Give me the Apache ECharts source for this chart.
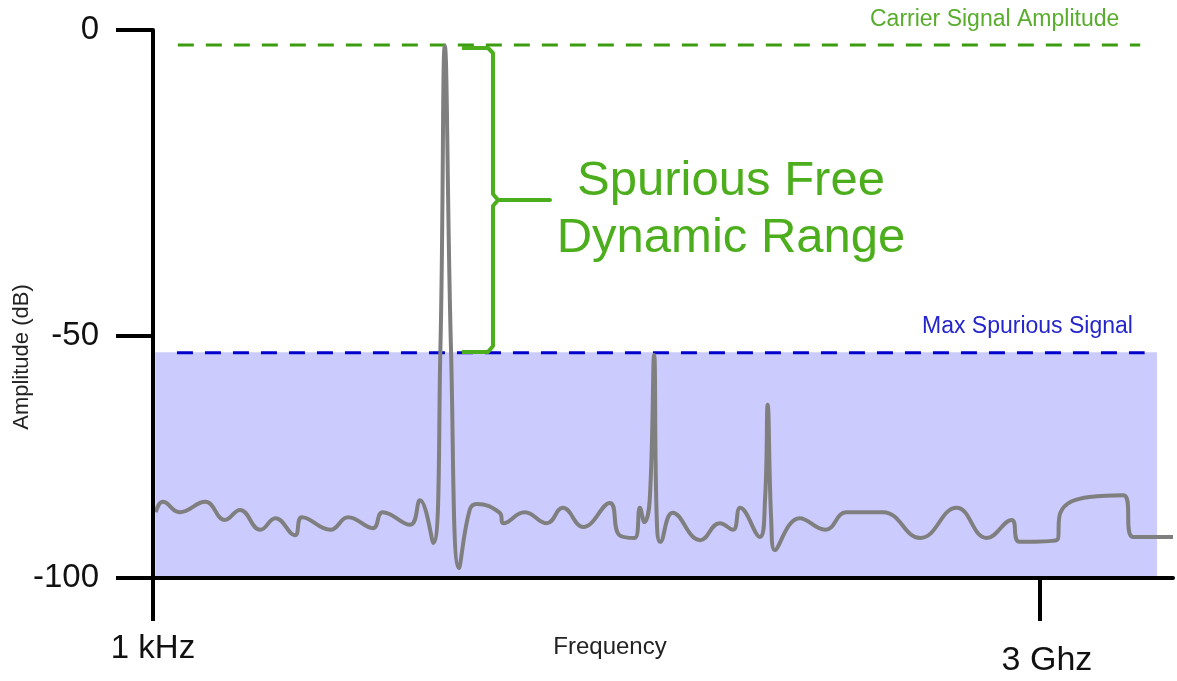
<!DOCTYPE html>
<html>
<head>
<meta charset="utf-8">
<script src="https://cdn.jsdelivr.net/npm/echarts@6/dist/echarts.min.js"></script>
<style>
html,body{margin:0;padding:0;background:#fff;}
#chart{width:1177px;height:681px;}
</style>
</head>
<body>
<div id="chart"></div>
<script>
// ---- data ----
// x: position along the frequency axis (0 = 1 kHz, 100 = 3 GHz)
var freqPos = [0.3,1.1,3.0,5.9,8.1,9.8,12.1,13.8,16.0,16.8,20.0,22.0,24.8,25.9,29.0,30.1,31.6,
  32.4,32.9,33.6,34.5,35.7,36.5,39.1,39.5,41.9,44.4,46.2,48.5,51.5,52.6,54.3,54.9,55.4,
  56.0,56.5,56.8,57.2,58.6,61.7,63.9,65.4,66.2,68.4,69.0,69.3,69.7,70.1,72.9,75.8,78.2,82.3,86.5,90.6,
  94.0,96.8,97.7,101.9,102.3,105.6,109.4,110.5,115.0];
var amplitude = [-88.0,-86.1,-88.0,-86.1,-89.4,-87.6,-91.2,-89.1,-92.2,-88.9,-91.2,-88.9,-90.9,-88.0,-90.3,-85.8,-93.6,
  -58.4,-2.9,-58.4,-98.2,-87.6,-86.5,-88.1,-90.0,-88.0,-90.0,-87.2,-90.7,-86.3,-92.2,-92.7,-87.2,-89.8,
  -85.8,-59.3,-89.4,-93.4,-88.1,-93.1,-90.0,-91.2,-87.2,-92.5,-85.8,-68.4,-89.4,-94.9,-89.1,-91.2,-88.0,-88.0,-92.7,-87.2,
  -92.7,-89.4,-93.4,-93.1,-88.1,-85.2,-84.9,-92.5,-92.5];
var carrierLevel = -2.74;
var maxSpurLevel = -58.9;
var carrierRange = [2.8, 111.3];
var spurRange = [2.7, 111.8];
var shadeRange = [0.25, 113.2];
var bracketX = [34.84,37.77,38.33,38.33,38.90,44.76,38.90,38.33,38.33,37.77,34.84];
var bracketY = [-3.28,-3.28,-4.20,-29.93,-31.02,-31.02,-31.02,-32.12,-57.66,-58.76,-58.76];
var xTickValues = [0, 100];
var xTickLabels = ['1 kHz', '3 Ghz'];
var yTickValues = [0, -55.8, -100];
var yTickLabels = ['0', '-50', '-100'];

var curve = freqPos.map(function(x,i){return [x, amplitude[i]];});
var bracket = bracketX.map(function(x,i){return [x, bracketY[i]];});

var FONT = '"Liberation Sans", Arial, sans-serif';
var chart = echarts.init(document.getElementById('chart'), null, {renderer:'canvas'});
chart.setOption({
  animation:false,
  backgroundColor:'#ffffff',
  grid:{left:153, right:4, top:30, bottom:103, containLabel:false},
  xAxis:{
    type:'value', min:0, max:115, z:10,
    splitLine:{show:false},
    axisLine:{onZero:false, lineStyle:{color:'#000', width:4}},
    axisTick:{show:true, customValues:xTickValues, length:43, lineStyle:{color:'#000', width:4}},
    axisLabel:{
      customValues:xTickValues, margin:54, fontFamily:FONT,
      formatter:function(v){var i=xTickValues.indexOf(v); return i===0 ? '{a|'+xTickLabels[0]+'}' : '{b|'+xTickLabels[i]+'}';},
      rich:{
        a:{fontSize:33, color:'#111', fontFamily:FONT},
        b:{fontSize:34, color:'#111', fontFamily:FONT, padding:[12,0,0,14]}
      }
    }
  },
  yAxis:{
    type:'value', min:-100, max:0, z:10,
    splitLine:{show:false},
    axisLine:{onZero:false, lineStyle:{color:'#000', width:4}},
    axisTick:{show:true, customValues:yTickValues, length:37, lineStyle:{color:'#000', width:4}},
    axisLabel:{
      customValues:yTickValues, margin:54, fontSize:33, color:'#111', fontFamily:FONT,
      formatter:function(v){var i=yTickValues.indexOf(v); return i>=0 ? yTickLabels[i] : '';}
    }
  },
  graphic:[
    {type:'text', left:870, top:8, style:{text:'Carrier Signal Amplitude', fill:'#58ad2c', font:'23px '+FONT}},
    {type:'text', left:922, top:315, style:{text:'Max Spurious Signal', fill:'#2525cc', font:'23px '+FONT}},
    {type:'text', x:731, y:153, style:{text:'Spurious Free\nDynamic Range', fill:'#4cae1c', font:'49px '+FONT, align:'center', verticalAlign:'top', lineHeight:57}},
    {type:'text', x:610, y:647, style:{text:'Frequency', fill:'#222', font:'24px '+FONT, align:'center', verticalAlign:'middle'}},
    {type:'text', x:22, y:357, rotation:Math.PI/2, style:{text:'Amplitude (dB)', fill:'#222', font:'22px '+FONT, align:'center', verticalAlign:'middle'}}
  ],
  series:[
    {
      type:'line', name:'shade', data:[], silent:true,
      markArea:{silent:true, itemStyle:{color:'#cccbfd', opacity:1},
        data:[[{xAxis:shadeRange[0], yAxis:maxSpurLevel+0.1},{xAxis:shadeRange[1], yAxis:-100}]]}
    },
    {
      type:'line', name:'spectrum', data:curve, showSymbol:false, symbol:'none',
      smooth:0.45, clip:false,
      lineStyle:{color:'#7f7f7f', width:4, join:'round'}, z:4
    },
    {
      type:'line', name:'carrier', data:[[carrierRange[0],carrierLevel],[carrierRange[1],carrierLevel]],
      symbol:'none', lineStyle:{color:'#3c9c10', width:3, type:[16,12]}, z:3
    },
    {
      type:'line', name:'maxspur', data:[[spurRange[0],maxSpurLevel],[spurRange[1],maxSpurLevel]],
      symbol:'none', lineStyle:{color:'#0000cc', width:3, type:[16,12]}, z:3
    },
    {
      type:'line', name:'bracket', data:bracket, symbol:'none', smooth:false,
      lineStyle:{color:'#4cae1c', width:4, join:'round'}, z:5
    }
  ]
});
</script>
</body>
</html>
